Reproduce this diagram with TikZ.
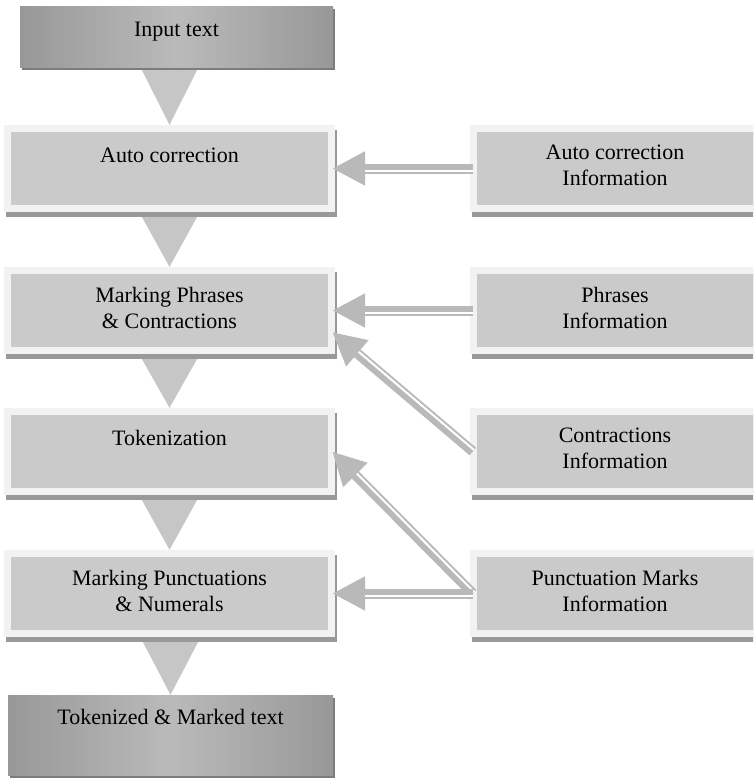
\documentclass[tikz,border=0pt]{standalone}
\usepackage{fontspec}
\setmainfont{Liberation Serif}
\usetikzlibrary{calc,shadows,arrows.meta}

\definecolor{framecol}{HTML}{F2F2F2}
\definecolor{boxcol}{HTML}{CACACA}
\definecolor{shadowcol}{HTML}{999999}
\definecolor{flowcol}{HTML}{C6C6C6}
\definecolor{feedcol}{HTML}{B9B9B9}
\definecolor{capedge}{HTML}{989898}
\definecolor{capmid}{HTML}{BABABA}
\definecolor{capshadow}{HTML}{7C7C7C}

% white gap that splits a feed arrow into a thick and a thin stroke
\newcommand\gapline[3]{%
  \draw[white, line width=2pt]
    ($(#1)!2pt!#3:(#2)$) -- ($ ($(#2)!33pt!(#1)$) !2pt!-#3:(#1) $);}

\tikzset{
  boxfont/.style={font=\fontsize{22}{26}\selectfont},
  stagebox/.style={boxfont, minimum width=331pt, minimum height=87pt,
    inner sep=0pt, fill=framecol, align=center,
    drop shadow={shadow xshift=2pt, shadow yshift=-5pt, fill=shadowcol, opacity=1},
    path picture={\fill[boxcol]
      ($(path picture bounding box.north west)+(7pt,-7pt)$) rectangle
      ($(path picture bounding box.south east)+(-7pt,7pt)$);}},
  infobox/.style={stagebox, minimum width=296pt},
  capbox/.style={boxfont, inner sep=0pt, align=center,
    left color=capedge, right color=capedge, middle color=capmid,
    drop shadow={shadow xshift=2pt, shadow yshift=-3pt, fill=capshadow, opacity=1}},
  flowtri/.style={fill=flowcol},
  feed/.style={draw=feedcol, line width=10pt,
    -{Triangle[length=33pt,width=32pt]}},
}

\begin{document}
\begin{tikzpicture}[x=1pt,y=-1pt]
\useasboundingbox (0,0) rectangle (753,779);
\clip (0,0) rectangle (753,779);

% stage nodes (left column)
\node[capbox, minimum width=313pt, minimum height=61pt] (inp) at (176.5,36.5)
  {Input text\\[-11pt]\mbox{}};
\node[stagebox] (ac)  at (169.5,168.5) {Auto correction\\[1pt]\mbox{}};
\node[stagebox] (mp)  at (169.5,310.5) {Marking Phrases\\\& Contractions\\[-20pt]\mbox{}};
\node[stagebox] (tok) at (169.5,451.5) {Tokenization\\[1pt]\mbox{}};
\node[stagebox] (mpn) at (169.5,593.5) {Marking Punctuations\\\& Numerals\\[-20pt]\mbox{}};
\node[capbox, minimum width=325pt, minimum height=80pt] (out) at (170.5,735)
  {Tokenized \& Marked text\\[10pt]\mbox{}};

% information sources (right column, running off the right edge)
\node[infobox] (aci) at (618,168.5) {\hspace*{-6pt}Auto correction\\\hspace*{-6pt}Information\\[-20pt]\mbox{}};
\node[infobox] (phi) at (618,310.5) {\hspace*{-6pt}Phrases\\\hspace*{-6pt}Information\\[-20pt]\mbox{}};
\node[infobox] (coi) at (618,451.5) {\hspace*{-6pt}Contractions\\\hspace*{-6pt}Information\\[-20pt]\mbox{}};
\node[infobox] (pui) at (618,593.5) {\hspace*{-6pt}Punctuation Marks\\\hspace*{-6pt}Information\\[-20pt]\mbox{}};

% flow triangles between the stages
\fill[flowtri] ($(inp.south -| ac.north)+(-27.5,3)$) -- ($(inp.south -| ac.north)+(27.5,3)$) -- (ac.north) -- cycle;
\fill[flowtri] ($(ac.south -| mp.north)+(-27.5,5)$) -- ($(ac.south -| mp.north)+(27.5,5)$) -- (mp.north) -- cycle;
\fill[flowtri] ($(mp.south -| tok.north)+(-27.5,5)$) -- ($(mp.south -| tok.north)+(27.5,5)$) -- (tok.north) -- cycle;
\fill[flowtri] ($(tok.south -| mpn.north)+(-27.5,5)$) -- ($(tok.south -| mpn.north)+(27.5,5)$) -- (mpn.north) -- cycle;
\fill[flowtri] ($(mpn.south -| out.north)+(-27.5,5)$) -- ($(mpn.south -| out.north)+(27.5,5)$) -- (out.north) -- cycle;

% feed arrow end points
\coordinate (s1) at ([xshift=3pt]aci.west);
\coordinate (e1) at ([xshift=-3pt]ac.east);
\coordinate (s2) at ([xshift=3pt]phi.west);
\coordinate (e2) at ([xshift=-3pt]mp.east);
\coordinate (s3) at ([xshift=3pt]coi.west);
\coordinate (e3) at ([xshift=-3pt,yshift=-21.5pt]mp.east);
\coordinate (s4) at ([xshift=3pt]pui.west);
\coordinate (e4) at ([xshift=-3pt]tok.east);
\coordinate (e5) at ([xshift=-3pt]mpn.east);

% feed arrows from the information sources
\draw[feed] (s1) -- (e1); \gapline{s1}{e1}{90}
\draw[feed] (s2) -- (e2); \gapline{s2}{e2}{90}
\draw[feed] (s3) -- (e3); \gapline{s3}{e3}{-90}
\draw[feed] (s4) -- (e4); \gapline{s4}{e4}{-90}
\draw[feed] (s4) -- (e5); \gapline{s4}{e5}{90}
\end{tikzpicture}
\end{document}
